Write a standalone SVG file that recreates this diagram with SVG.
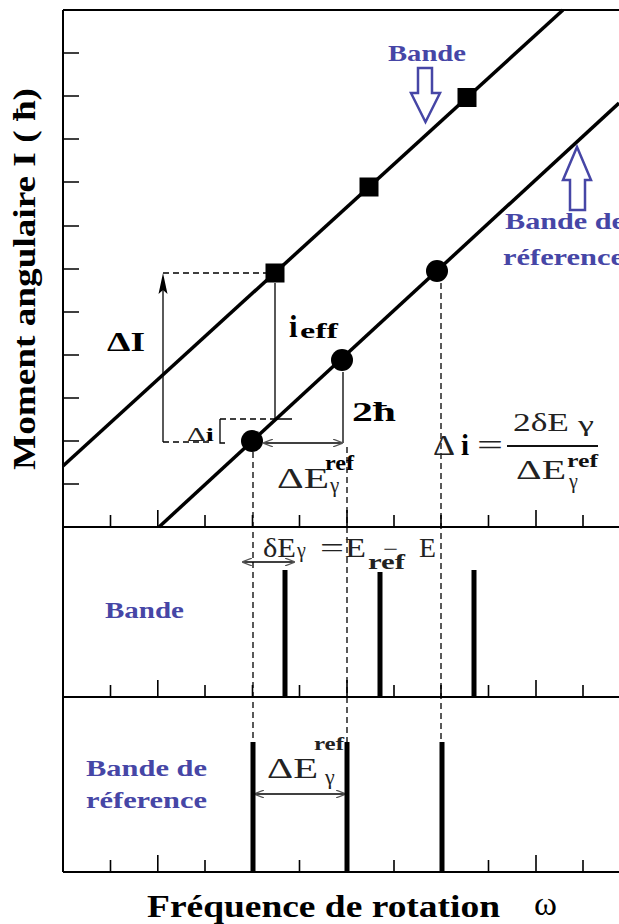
<svg xmlns="http://www.w3.org/2000/svg" width="619" height="924" viewBox="0 0 619 924">
<style>
.ax{stroke:#000;stroke-width:2;fill:none}
.tk{stroke:#000;stroke-width:1.6;fill:none}
.band{stroke:#000;stroke-width:3.5;fill:none}
.dash{stroke:#000;stroke-width:1.3;stroke-dasharray:6 4;fill:none}
.thin{stroke:#000;stroke-width:1.3;fill:none}
.spec{stroke:#000;stroke-width:5;fill:none}
.s{font-family:"Liberation Serif","Times New Roman",serif}
.b{font-weight:bold}
.blue{fill:#4646a6;font-weight:bold;font-family:"Liberation Serif","Times New Roman",serif;font-size:24px}
.hollow{fill:#fff;stroke:#4646a6;stroke-width:2.5;stroke-linejoin:miter}
.m{fill:#222}
</style>
<defs>
<marker id="ah" viewBox="0 0 10 8" refX="9" refY="4" markerWidth="10" markerHeight="8" markerUnits="userSpaceOnUse" orient="auto-start-reverse">
<path d="M0,0 L10,4 L0,8" fill="none" stroke="#555" stroke-width="1.2"/>
</marker>
</defs>
<rect width="619" height="924" fill="#fff"/>

<g id="frame">
<path class="ax" d="M63,10 H619 M63,10 V872 M63,527 H619 M63,697 H619 M63,872 H619"/>
<path class="tk" d="M63,53 h16 M63,96 h16 M63,139 h16 M63,182 h16 M63,226 h16 M63,269 h16 M63,312 h16 M63,355 h16 M63,398 h16 M63,441 h16 M63,484 h16"/>
<path class="tk" d="M110.5,527 v-12 M157.8,527 v-17 M205,527 v-12 M252.5,527 v-12 M299.5,527 v-12 M347,527 v-17 M394,527 v-12 M441,527 v-12 M488.5,527 v-12 M536,527 v-17 M583,527 v-12"/>
<path class="tk" d="M110.5,697 v-12 M157.8,697 v-17 M205,697 v-12 M252.5,697 v-12 M299.5,697 v-12 M347,697 v-17 M394,697 v-12 M441,697 v-12 M488.5,697 v-12 M536,697 v-17 M583,697 v-12"/>
<path class="tk" d="M110.5,872 v-12 M157.8,872 v-17 M205,872 v-12 M252.5,872 v-12 M299.5,872 v-12 M347,872 v-17 M394,872 v-12 M441,872 v-12 M488.5,872 v-12 M536,872 v-17 M583,872 v-12"/>
</g>

<g id="axis-labels" class="s b">
<text transform="translate(35,279) rotate(-90)" text-anchor="middle" font-size="31" textLength="382" lengthAdjust="spacingAndGlyphs">Moment angulaire I ( ħ)</text>
<text x="147" y="917" font-size="32" textLength="353" lengthAdjust="spacingAndGlyphs">Fréquence de rotation</text>
<text x="534" y="915" font-size="34" font-weight="normal" textLength="23" lengthAdjust="spacingAndGlyphs">ω</text>
</g>

<g id="connectors">
<path class="dash" d="M253,452 V742 M347,447 V742 M441,283 V742"/>
<path class="dash" d="M163,273 H266 M163,442 H212 M220,419 H275"/>
<path class="thin" d="M163,442 V288"/>
<path d="M163,273 L158.5,294 L163,290 L167.5,294 Z" fill="#000"/>
<path class="thin" d="M225,443 H220 V419 M275,419 H292 M275,283 V420 M343,372 V443"/>
<path class="thin" d="M264,443 H342" marker-start="url(#ah)" marker-end="url(#ah)"/>
<path class="thin" d="M243,562 H294" marker-start="url(#ah)" marker-end="url(#ah)"/>
<path class="thin" d="M255,794 H345" marker-start="url(#ah)" marker-end="url(#ah)"/>
</g>

<g id="band">
<path class="band" d="M63,466 L563,10"/>
<rect x="265.5" y="263.5" width="19" height="19" fill="#000"/>
<rect x="359.5" y="177.5" width="19" height="19" fill="#000"/>
<rect x="457.5" y="88" width="19" height="19" fill="#000"/>
</g>

<g id="reference-band">
<path class="band" d="M159,527 L619,103"/>
<circle cx="252" cy="441" r="11" fill="#000"/>
<circle cx="342" cy="360" r="11" fill="#000"/>
<circle cx="437" cy="271" r="11" fill="#000"/>
</g>

<g id="band-label">
<text class="blue" x="388" y="61" textLength="78" lengthAdjust="spacingAndGlyphs">Bande</text>
<path class="hollow" d="M418,68 H432 V93 H440 L425.5,122 L411,93 H418 Z"/>
</g>

<g id="reference-label">
<path class="hollow" d="M570,210 H585 V180 H591 L577,147 L563,180 H570 Z"/>
<text class="blue" x="505" y="229" font-size="25" textLength="120" lengthAdjust="spacingAndGlyphs">Bande de</text>
<text class="blue" x="503" y="265" font-size="25" textLength="121" lengthAdjust="spacingAndGlyphs">réference</text>
</g>

<g id="top-annotations" class="s">
<text x="107" y="351" font-size="27" class="b" textLength="38" lengthAdjust="spacingAndGlyphs">ΔI</text>
<text x="289" y="337" font-size="31" class="b">i</text>
<text x="300" y="338" font-size="20" class="b" textLength="38" lengthAdjust="spacingAndGlyphs">eff</text>
<text x="187" y="441" font-size="19" class="m" textLength="27" lengthAdjust="spacingAndGlyphs">Δ<tspan font-weight="bold" fill="#000">i</tspan></text>
<text x="352" y="421" font-size="27" class="b" textLength="44" lengthAdjust="spacingAndGlyphs">2ħ</text>
<text x="277" y="488" font-size="30" class="m" textLength="52" lengthAdjust="spacingAndGlyphs">ΔE</text>
<text x="325" y="470" font-size="20" class="b" textLength="29" lengthAdjust="spacingAndGlyphs">ref</text>
<text x="330" y="492" font-size="21" class="m">γ</text>
</g>

<g id="formula" class="s m">
<text x="433" y="455" font-size="29" textLength="22" lengthAdjust="spacingAndGlyphs">Δ</text>
<text x="461" y="455" font-size="29" class="b" fill="#000">i</text>
<text x="477" y="455" font-size="29" textLength="26" lengthAdjust="spacingAndGlyphs">=</text>
<text x="513" y="431" font-size="25" textLength="56" lengthAdjust="spacingAndGlyphs">2δE</text>
<text x="578" y="431" font-size="22" textLength="16" lengthAdjust="spacingAndGlyphs">γ</text>
<path d="M507,446 H598" stroke="#111" stroke-width="2"/>
<text x="516" y="479" font-size="27" textLength="50" lengthAdjust="spacingAndGlyphs">ΔE</text>
<text x="567" y="467" font-size="19" class="b" fill="#111" textLength="31" lengthAdjust="spacingAndGlyphs">ref</text>
<text x="569" y="488" font-size="20">γ</text>
</g>

<g id="middle-panel">
<text class="blue" x="105" y="618" textLength="79" lengthAdjust="spacingAndGlyphs">Bande</text>
<path class="spec" d="M285,570 V697 M380,572 V697 M474,570 V697"/>
<g class="s m">
<text x="263" y="557" font-size="28" textLength="33" lengthAdjust="spacingAndGlyphs">δE</text>
<text x="297" y="557" font-size="20">γ</text>
<text x="320" y="557" font-size="28" textLength="24" lengthAdjust="spacingAndGlyphs">=</text>
<text x="345" y="557" font-size="28" textLength="21" lengthAdjust="spacingAndGlyphs">E</text>
<text x="368" y="569" font-size="21" class="b" textLength="37" lengthAdjust="spacingAndGlyphs">ref</text>
<text x="383" y="556" font-size="21" textLength="15" lengthAdjust="spacingAndGlyphs">−</text>
<text x="419" y="557" font-size="27" textLength="17" lengthAdjust="spacingAndGlyphs">E</text>
</g>
</g>

<g id="bottom-panel">
<text class="blue" x="86" y="776" textLength="121" lengthAdjust="spacingAndGlyphs">Bande de</text>
<text class="blue" x="86" y="808" textLength="121" lengthAdjust="spacingAndGlyphs">réference</text>
<path class="spec" d="M253,742 V872 M347,742 V872 M442,742 V872"/>
<g class="s m">
<text x="267" y="778" font-size="29" textLength="51" lengthAdjust="spacingAndGlyphs">ΔE</text>
<text x="314" y="750" font-size="18" class="b" textLength="30" lengthAdjust="spacingAndGlyphs">ref</text>
<text x="325" y="784" font-size="22">γ</text>
</g>
</g>
</svg>
